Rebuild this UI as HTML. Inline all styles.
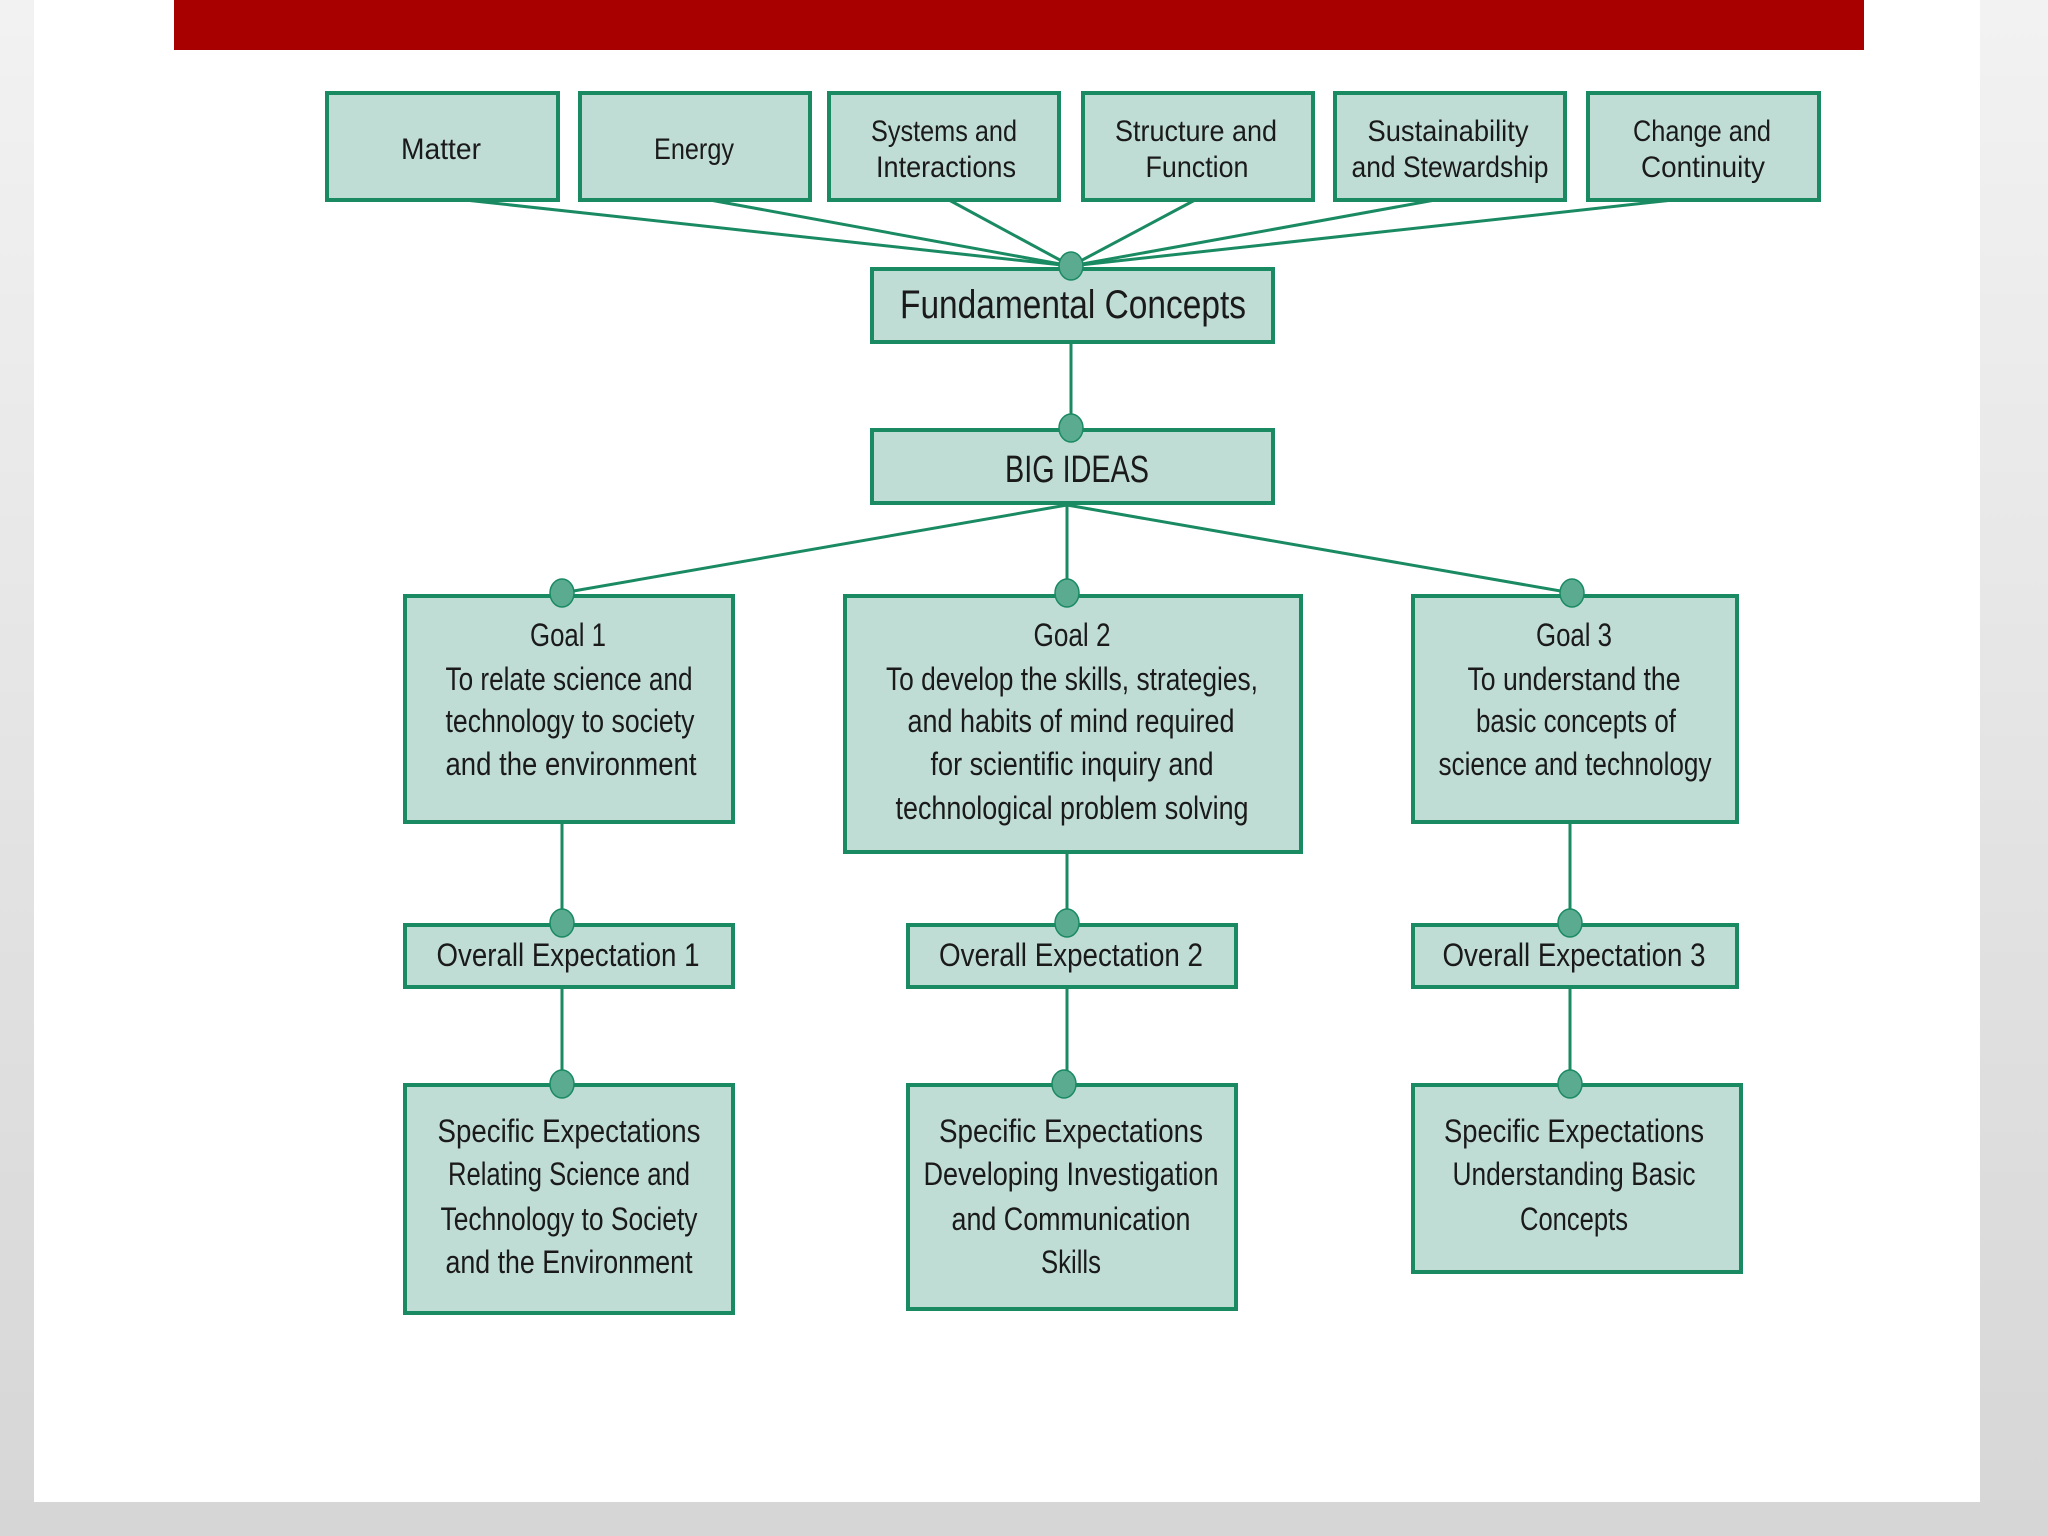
<!DOCTYPE html>
<html><head><meta charset="utf-8"><style>
html,body{margin:0;padding:0;}
body{width:2048px;height:1536px;overflow:hidden;background:linear-gradient(#f2f2f2,#d6d6d6);position:relative;}
#panel{position:absolute;left:34px;top:0;width:1946px;height:1502px;background:#fff;}
#bar{position:absolute;left:174px;top:0;width:1690px;height:50px;background:#a80000;}
svg{position:absolute;left:0;top:0;}
text{font-family:"Liberation Sans Narrow","Liberation Sans",sans-serif;fill:#1a1a1a;text-anchor:middle;}
</style></head><body>
<div id="panel"></div><div id="bar"></div>
<svg width="2048" height="1536" viewBox="0 0 2048 1536">
<g stroke="#1a8a63" stroke-width="3" fill="none">
<line x1="465" y1="200" x2="1071" y2="266"/>
<line x1="710" y1="200" x2="1071" y2="266"/>
<line x1="949" y1="200" x2="1071" y2="266"/>
<line x1="1195" y1="200" x2="1071" y2="266"/>
<line x1="1435" y1="200" x2="1071" y2="266"/>
<line x1="1673" y1="200" x2="1071" y2="266"/>
<line x1="1071" y1="342" x2="1071" y2="428"/>
<line x1="1067" y1="505" x2="562" y2="593"/>
<line x1="1067" y1="505" x2="1067" y2="593"/>
<line x1="1067" y1="505" x2="1572" y2="593"/>
<line x1="562" y1="822" x2="562" y2="1084"/>
<line x1="1067" y1="852" x2="1067" y2="1084"/>
<line x1="1570" y1="822" x2="1570" y2="1084"/>
</g>
<g fill="#c0ddd5" stroke="#1a8a63" stroke-width="4">
<rect x="327" y="93" width="231" height="107"/>
<rect x="580" y="93" width="230" height="107"/>
<rect x="829" y="93" width="230" height="107"/>
<rect x="1083" y="93" width="230" height="107"/>
<rect x="1335" y="93" width="230" height="107"/>
<rect x="1588" y="93" width="231" height="107"/>
<rect x="872" y="269" width="401" height="73"/>
<rect x="872" y="430" width="401" height="73"/>
<rect x="405" y="596" width="328" height="226"/>
<rect x="845" y="596" width="456" height="256"/>
<rect x="1413" y="596" width="324" height="226"/>
<rect x="405" y="925" width="328" height="62"/>
<rect x="908" y="925" width="328" height="62"/>
<rect x="1413" y="925" width="324" height="62"/>
<rect x="405" y="1085" width="328" height="228"/>
<rect x="908" y="1085" width="328" height="224"/>
<rect x="1413" y="1085" width="328" height="187"/>
</g>
<g fill="#5aab8f" stroke="#1a8a63" stroke-width="1.5">
<ellipse cx="1071" cy="266" rx="12" ry="14"/>
<ellipse cx="1071" cy="428" rx="12" ry="14"/>
<ellipse cx="562" cy="593" rx="12" ry="14"/>
<ellipse cx="1067" cy="593" rx="12" ry="14"/>
<ellipse cx="1572" cy="593" rx="12" ry="14"/>
<ellipse cx="562" cy="923" rx="12" ry="14"/>
<ellipse cx="1067" cy="923" rx="12" ry="14"/>
<ellipse cx="1570" cy="923" rx="12" ry="14"/>
<ellipse cx="562" cy="1084" rx="12" ry="14"/>
<ellipse cx="1064" cy="1084" rx="12" ry="14"/>
<ellipse cx="1570" cy="1084" rx="12" ry="14"/>
</g>
<g font-size="30" lengthAdjust="spacingAndGlyphs">
<text x="441" y="159" textLength="80" lengthAdjust="spacingAndGlyphs">Matter</text>
<text x="694" y="159" textLength="80" lengthAdjust="spacingAndGlyphs">Energy</text>
<text x="944" y="141" textLength="146" lengthAdjust="spacingAndGlyphs">Systems and</text>
<text x="946" y="177" textLength="140" lengthAdjust="spacingAndGlyphs">Interactions</text>
<text x="1196" y="141" textLength="162" lengthAdjust="spacingAndGlyphs">Structure and</text>
<text x="1197" y="177" textLength="103" lengthAdjust="spacingAndGlyphs">Function</text>
<text x="1448" y="141" textLength="161" lengthAdjust="spacingAndGlyphs">Sustainability</text>
<text x="1450" y="177" textLength="197" lengthAdjust="spacingAndGlyphs">and Stewardship</text>
<text x="1702" y="141" textLength="138" lengthAdjust="spacingAndGlyphs">Change and</text>
<text x="1703" y="177" textLength="124" lengthAdjust="spacingAndGlyphs">Continuity</text>
</g>
<text x="1073" y="318" font-size="40" textLength="346" lengthAdjust="spacingAndGlyphs">Fundamental Concepts</text>
<text x="1077" y="482" font-size="38" textLength="144" lengthAdjust="spacingAndGlyphs">BIG IDEAS</text>
<g font-size="32">
<text x="568" y="646" textLength="76" lengthAdjust="spacingAndGlyphs">Goal 1</text>
<text x="569" y="690" textLength="247" lengthAdjust="spacingAndGlyphs">To relate science and</text>
<text x="570" y="732" textLength="249" lengthAdjust="spacingAndGlyphs">technology to society</text>
<text x="571" y="775" textLength="251" lengthAdjust="spacingAndGlyphs">and the environment</text>
<text x="1072" y="646" textLength="77" lengthAdjust="spacingAndGlyphs">Goal 2</text>
<text x="1072" y="690" textLength="372" lengthAdjust="spacingAndGlyphs">To develop the skills, strategies,</text>
<text x="1071" y="732" textLength="327" lengthAdjust="spacingAndGlyphs">and habits of mind required</text>
<text x="1072" y="775" textLength="283" lengthAdjust="spacingAndGlyphs">for scientific inquiry and</text>
<text x="1072" y="819" textLength="353" lengthAdjust="spacingAndGlyphs">technological problem solving</text>
<text x="1574" y="646" textLength="76" lengthAdjust="spacingAndGlyphs">Goal 3</text>
<text x="1574" y="690" textLength="213" lengthAdjust="spacingAndGlyphs">To understand the</text>
<text x="1576" y="732" textLength="200" lengthAdjust="spacingAndGlyphs">basic concepts of</text>
<text x="1575" y="775" textLength="273" lengthAdjust="spacingAndGlyphs">science and technology</text>
<text x="568" y="966" textLength="263" lengthAdjust="spacingAndGlyphs">Overall Expectation 1</text>
<text x="1071" y="966" textLength="264" lengthAdjust="spacingAndGlyphs">Overall Expectation 2</text>
<text x="1574" y="966" textLength="263" lengthAdjust="spacingAndGlyphs">Overall Expectation 3</text>
<text x="569" y="1142" textLength="263" lengthAdjust="spacingAndGlyphs">Specific Expectations</text>
<text x="569" y="1185" textLength="242" lengthAdjust="spacingAndGlyphs">Relating Science and</text>
<text x="569" y="1230" textLength="257" lengthAdjust="spacingAndGlyphs">Technology to Society</text>
<text x="569" y="1273" textLength="247" lengthAdjust="spacingAndGlyphs">and the Environment</text>
<text x="1071" y="1142" textLength="264" lengthAdjust="spacingAndGlyphs">Specific Expectations</text>
<text x="1071" y="1185" textLength="295" lengthAdjust="spacingAndGlyphs">Developing Investigation</text>
<text x="1071" y="1230" textLength="239" lengthAdjust="spacingAndGlyphs">and Communication</text>
<text x="1071" y="1273" textLength="60" lengthAdjust="spacingAndGlyphs">Skills</text>
<text x="1574" y="1142" textLength="260" lengthAdjust="spacingAndGlyphs">Specific Expectations</text>
<text x="1574" y="1185" textLength="243" lengthAdjust="spacingAndGlyphs">Understanding Basic</text>
<text x="1574" y="1230" textLength="108" lengthAdjust="spacingAndGlyphs">Concepts</text>
</g>
</svg>
</body></html>
